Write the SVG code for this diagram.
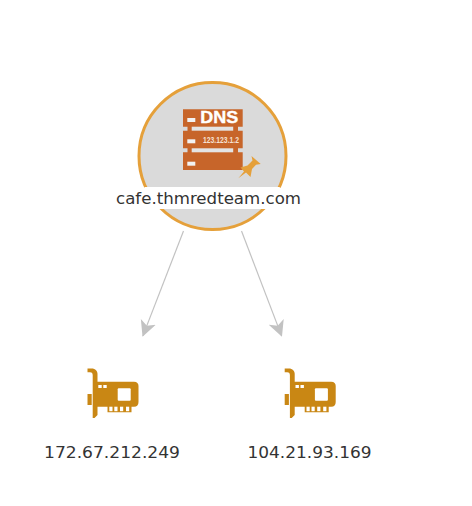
<svg xmlns="http://www.w3.org/2000/svg" xmlns:xlink="http://www.w3.org/1999/xlink" width="472" height="506" viewBox="0 0 472 506">
<style>
.lbl{font-family:"DejaVu Sans",sans-serif;font-size:15.4px;fill:#333;text-anchor:middle}
.edge{stroke:#c2c2c2;stroke-width:1.2;fill:none;marker-end:url(#arrow)}
.nic{fill:#c98714}
.hole{fill:#fff}
.bar{fill:#e4e4e4}
.slot{fill:#f2f2f2}
</style>
<defs>
<marker id="arrow" markerUnits="userSpaceOnUse" markerWidth="17" markerHeight="17" refX="15" refY="8.500" orient="auto" viewBox="0 0 17 17">
<path d="M0 0.500L16 8.500L0 16.500L4 8.500Z" fill="#c2c2c2"/>
</marker>
<g id="nic-icon">
<path class="nic" d="M0 0.500H4C8 0.500 10 3 10 6V13.700H46.500C49.500 13.700 51 15.500 51 18V34C51 37 49.500 38.700 46.500 38.700H44V44.300H20V38.700H10V47L7 50H5.200V7C5.200 5 4 4.300 2.500 4.300H0Z"/>
<rect class="nic" x="0" y="26" width="4.200" height="11"/>
<rect class="hole" x="30.200" y="20.300" width="13" height="12.400" rx="1"/>
<rect class="hole" x="10.800" y="17" width="3.400" height="3"/>
<rect class="hole" x="15.800" y="17" width="3.400" height="3"/>
<rect class="hole" x="21.800" y="38.700" width="3.200" height="4.500"/>
<rect class="hole" x="26.800" y="38.700" width="3.200" height="4.500"/>
<rect class="hole" x="32.500" y="38.700" width="3.200" height="4.500"/>
<rect class="hole" x="38.500" y="38.700" width="3.200" height="4.500"/>
</g>
</defs>
<g id="connectors">
<path class="edge" d="M183.500 231L142.900 335.900"/>
<path class="edge" d="M241.500 231L281.600 335.900"/>
</g>
<g id="node-dns">
<circle cx="212.500" cy="156" r="73.500" fill="#dadada" stroke="#e5a03a" stroke-width="3"/>
<path d="M183 109.300H242.700V126.700H238V130.700H242.700V148.300H238V152.300H242.700V170H183V152.300H187.500V148.300H183V130.700H187.500V126.700H183Z" fill="#c7652a"/>
<rect class="bar" x="191.700" y="126.700" width="41.500" height="4"/>
<rect class="bar" x="191.700" y="148.300" width="41.500" height="4"/>
<rect class="slot" x="187.300" y="118" width="8" height="4"/>
<rect class="slot" x="187.300" y="139.300" width="8" height="4"/>
<rect class="slot" x="187.300" y="161.700" width="8" height="4"/>
<text x="219.200" y="123.300" font-family="'Liberation Sans',Arial,sans-serif" font-size="17" font-weight="700" fill="#fff" stroke="#fff" stroke-width="0.400" text-anchor="middle" textLength="38" lengthAdjust="spacingAndGlyphs">DNS</text>
<text x="221" y="142.500" font-family="'Liberation Sans',Arial,sans-serif" font-size="9.300" font-weight="700" fill="#f5e0d2" text-anchor="middle" textLength="36" lengthAdjust="spacingAndGlyphs">123.123.1.2</text>
<path d="M238.300 178.300L244 171.500L240.500 167.500L247.500 165.500L252.500 160.500L251.500 156L260.700 164L256 164.700L252 169L250.500 177L246 172.500Z" fill="#e5a03a"/>
<path d="M144.500 187H280.500L277 190V209H148L144.500 205Z" fill="#fff"/>
<rect x="113" y="188" width="190" height="20" fill="#fff"/>
<text class="lbl" x="208.500" y="203.500" textLength="185" lengthAdjust="spacingAndGlyphs">cafe.thmredteam.com</text>
</g>
<g id="node-ip1">
<use href="#nic-icon" xlink:href="#nic-icon" x="87.500" y="368"/>
<text class="lbl" x="112" y="457.500" textLength="136" lengthAdjust="spacingAndGlyphs">172.67.212.249</text>
</g>
<g id="node-ip2">
<use href="#nic-icon" xlink:href="#nic-icon" x="284.700" y="368"/>
<text class="lbl" x="309.500" y="457.500" textLength="124" lengthAdjust="spacingAndGlyphs">104.21.93.169</text>
</g>
</svg>
